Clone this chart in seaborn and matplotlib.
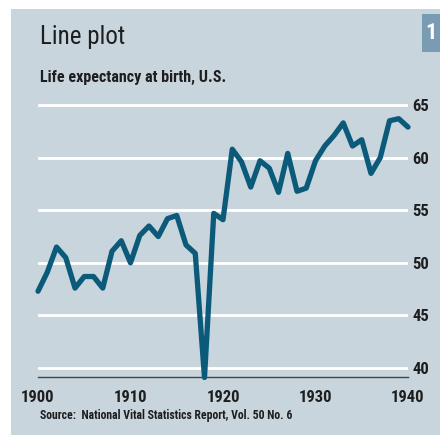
import matplotlib
matplotlib.use("Agg")
import matplotlib.pyplot as plt
import seaborn as sns
from matplotlib import font_manager
from matplotlib.patches import Rectangle

# life expectancy at birth, U.S., 1900-1940
years = list(range(1900, 1941))
life_exp = [47.3, 49.1, 51.5, 50.5, 47.6, 48.7, 48.7, 47.6, 51.1, 52.1,
            50.0, 52.6, 53.5, 52.5, 54.2, 54.5, 51.7, 50.9, 39.1, 54.7,
            54.1, 60.8, 59.6, 57.2, 59.7, 59.0, 56.7, 60.4, 56.8, 57.1,
            59.7, 61.1, 62.1, 63.3, 61.1, 61.7, 58.5, 60.0, 63.5, 63.7,
            62.9]
x_ticks = [1900, 1910, 1920, 1930, 1940]
y_ticks = [40, 45, 50, 55, 60, 65]

BG = "#c8d5dd"
LINE = "#0b5a7a"
TXT = "#1e1e1e"

sns.set_theme(style="white")
installed = sorted({f.name for f in font_manager.fontManager.ttflist})
wanted = [n for n in ["Roboto Condensed", "Liberation Sans Narrow", "Liberation Sans"]
          if n in installed]
plt.rcParams["font.family"] = wanted + ["DejaVu Sans"]

W, H = 440, 437
fig = plt.figure(figsize=(W / 100, H / 100), dpi=100)
fig.patch.set_facecolor("white")

# blue panel behind everything
fig.patches.append(Rectangle((11 / W, 2 / H), 1 - 11 / W, (435 - 9) / H,
                             transform=fig.transFigure, facecolor=BG,
                             edgecolor="none", zorder=-5))
# little numbered tab top right
fig.patches.append(Rectangle((422 / W, 1 - 52 / H), 18 / W, 38 / H,
                             transform=fig.transFigure, facecolor="#7a9cb2",
                             edgecolor="none", zorder=1))
fig.text(431 / W, 1 - 33 / H, "1", color="white", fontsize=16, fontweight="bold",
         ha="center", va="center")

fig.text(40 / W, 1 - 44 / H, "Line plot", color=TXT, fontsize=18,
         ha="left", va="baseline")
fig.text(40 / W, 1 - 82 / H, "Life expectancy at birth, U.S.", color=TXT,
         fontsize=11.5, fontweight="bold", ha="left", va="baseline")
fig.text(40 / W, 1 - 416 / H, "Source:  National Vital Statistics Report, Vol. 50 No. 6",
         color=TXT, fontsize=8.5, fontweight="bold", ha="left", va="center")

ymin, ymax = 39.15, 65.5
px_per_unit = 10.52
top_px = 105 - (ymax - 65) * px_per_unit
ax = fig.add_axes([38 / W, (H - 377) / H, 370 / W, (377 - top_px) / H])
ax.set_facecolor("none")

for yt in y_ticks:
    ax.axhline(yt, color="white", lw=2, zorder=1)

sns.lineplot(x=years, y=life_exp, ax=ax, color=LINE, lw=3.8, zorder=3)
for ln in ax.lines[-1:]:
    ln.set_solid_capstyle("round")
    ln.set_solid_joinstyle("round")
    ln.set_clip_on(False)

ax.set_xlim(1900, 1940)
ax.set_ylim(ymin, ymax)
ax.yaxis.tick_right()
ax.set_xticks(x_ticks)
ax.set_xticklabels([str(v) for v in x_ticks], fontweight="bold", fontsize=12, color=TXT)
ax.set_yticks(y_ticks)
ax.set_yticklabels([str(v) for v in y_ticks], fontweight="bold", fontsize=12, color=TXT)
ax.tick_params(axis="y", length=0, pad=3)
ax.tick_params(axis="x", direction="in", length=4, width=1, color="#444444", pad=9)

for side in ["top", "right", "left"]:
    ax.spines[side].set_visible(False)
ax.spines["bottom"].set_color("#444444")
ax.spines["bottom"].set_linewidth(1)
ax.set_xlabel("")
ax.set_ylabel("")
ax.grid(False)

fig.savefig("out.png", dpi=100, facecolor=fig.get_facecolor())
